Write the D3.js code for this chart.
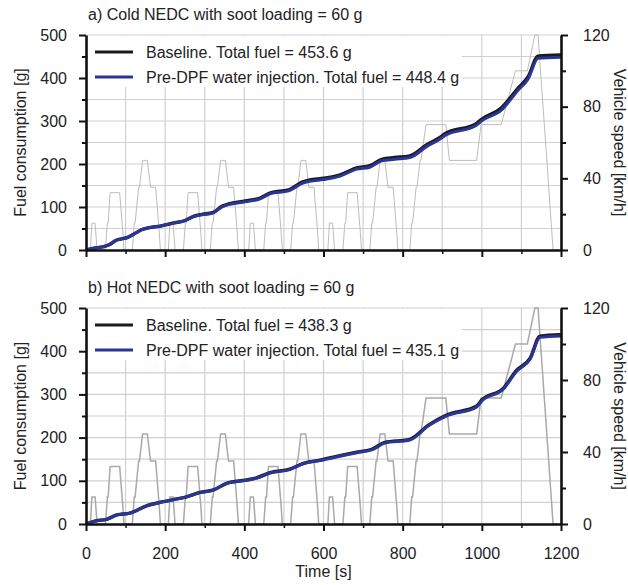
<!DOCTYPE html>
<html>
<head>
<meta charset="utf-8">
<script src="https://cdn.jsdelivr.net/npm/d3@7"></script>
<style>
  body { margin: 0; background: #fff; }
  svg { display: block; font-family: "Liberation Sans", Arial, sans-serif; }
</style>
</head>
<body>
<svg id="chart" width="628" height="585"></svg>
<script>
// vehicle speed trace (NEDC)
const speedTime = [0, 11, 15, 23, 28, 49, 54, 56, 61, 85, 93, 96, 117, 122, 124, 133, 135, 143, 155, 163, 176, 185, 188,
  208, 212, 220, 225, 246, 251, 253, 258, 282, 290, 293, 314, 319, 321, 330, 332, 340, 352, 360, 373, 382, 385,
  411, 415, 423, 428, 449, 454, 456, 461, 485, 493, 496, 517, 522, 524, 533, 535, 543, 555, 563, 576, 585, 588,
  611, 615, 623, 628, 649, 654, 656, 661, 685, 693, 696, 717, 722, 724, 733, 735, 743, 755, 763, 776, 785, 788,
  818, 823, 825, 834, 836, 844, 846, 859, 909, 918, 987, 998, 1049, 1085, 1115, 1134, 1142, 1180, 1192];
const speedKmh = [0, 0, 15, 15, 0, 0, 15, 15, 32, 32, 10, 0, 0, 15, 15, 35, 35, 50, 50, 35, 35, 10, 0,
  0, 15, 15, 0, 0, 15, 15, 32, 32, 10, 0, 0, 15, 15, 35, 35, 50, 50, 35, 35, 10, 0,
  0, 15, 15, 0, 0, 15, 15, 32, 32, 10, 0, 0, 15, 15, 35, 35, 50, 50, 35, 35, 10, 0,
  0, 15, 15, 0, 0, 15, 15, 32, 32, 10, 0, 0, 15, 15, 35, 35, 50, 50, 35, 35, 10, 0,
  0, 15, 15, 35, 35, 50, 50, 70, 70, 50, 50, 70, 70, 100, 100, 120, 120, 0, 0];

// a) cold NEDC, cumulative fuel [g]
const coldTime = [0, 20, 45, 60, 75, 90, 104, 121, 140, 155, 190, 222, 248, 273, 293, 320, 344, 360, 402, 440,
  466, 512, 546, 565, 601, 642, 684, 717, 747, 780, 818, 861, 899, 906, 986, 999, 1049, 1091, 1117, 1142, 1200];
const coldBaseline = [0, 4, 8, 13, 22, 26, 29, 37, 47, 51, 56, 63, 68, 79, 83, 87, 102, 107, 114, 121,
  133, 140, 158, 163, 167, 175, 191, 196, 211, 215, 219, 245, 265, 270, 294, 304, 330, 376, 403, 451, 453.6];
const coldWater = [0, 4, 8, 13, 22, 26, 29, 37, 47, 51, 56, 62.5, 67.5, 78, 82, 86, 100.5, 105.5, 112, 119,
  131, 137.5, 155, 160, 164, 172, 188, 192.5, 207.5, 211, 215, 241, 261, 266, 290, 300, 325, 371, 398, 446, 448.4];

// b) hot NEDC, cumulative fuel [g]
const hotTime = [0, 27, 52, 78, 111, 153, 195, 229, 254, 288, 322, 355, 406, 431, 465, 515, 549, 591,
  650, 688, 722, 755, 818, 865, 911, 987, 1000, 1054, 1088, 1122, 1147, 1200];
const hotBaseline = [0, 7.7, 10.8, 21, 25, 42, 51.6, 58, 63, 73, 79, 94, 102, 107, 119, 127, 140.5, 148,
  160, 167, 173, 189, 196, 229, 252, 273, 287, 314, 356, 384, 435, 438.3];
const hotWater = [0, 7.7, 10.8, 21, 25, 42, 51.5, 57.8, 62.7, 72.6, 78.5, 93.4, 101.3, 106.2, 118.1, 126, 139.4, 146.8,
  158.7, 165.6, 171.5, 187.4, 194.3, 227.2, 250.1, 271, 284.9, 311.8, 353.6, 381.4, 432.1, 435.1];

const fuelTicks = [0, 100, 200, 300, 400, 500];
const speedTicks = [0, 40, 80, 120];
const timeTicks = [0, 200, 400, 600, 800, 1000, 1200];

const panels = [
  { title: "a) Cold NEDC with soot loading = 60 g", top: 35, bottom: 250,
    time: coldTime, base: coldBaseline, water: coldWater,
    labels: ["Baseline. Total fuel = 453.6 g", "Pre-DPF water injection. Total fuel = 448.4 g"],
    speedColor: "#bdbdbd", speedWidth: 1, xLabels: false },
  { title: "b) Hot NEDC with soot loading = 60 g", top: 308, bottom: 524,
    time: hotTime, base: hotBaseline, water: hotWater,
    labels: ["Baseline. Total fuel = 438.3 g", "Pre-DPF water injection. Total fuel = 435.1 g"],
    speedColor: "#a9a9a9", speedWidth: 1.5, xLabels: true }
];

const svg = d3.select("#chart");
const x = d3.scaleLinear().domain([0, 1200]).range([86, 561]);
const gridColor = "#d0d0d0";
const blue = "#2b3595";

function styleAxis(sel, width) {
  sel.select(".domain").attr("stroke", "#111").attr("stroke-width", width);
  sel.selectAll(".tick line").attr("stroke", "#111").attr("stroke-width", 2);
  sel.selectAll(".tick text").attr("font-size", 16).attr("fill", "#222")
    .attr("font-family", "'Liberation Sans', Arial, sans-serif");
}

function drawPanel(p) {
  const y = d3.scaleLinear().domain([0, 500]).range([p.bottom, p.top]);
  const ySpeed = d3.scaleLinear().domain([0, 120]).range([p.bottom, p.top]);
  const g = svg.append("g");

  // grid
  g.append("g").selectAll("line").data(d3.range(50, 501, 50)).join("line")
    .attr("x1", x(0)).attr("x2", x(1200))
    .attr("y1", d => y(d)).attr("y2", d => y(d))
    .attr("stroke", gridColor).attr("stroke-width", 1.2);
  g.append("g").selectAll("line").data(d3.range(100, 1200, 100)).join("line")
    .attr("x1", d => x(d)).attr("x2", d => x(d))
    .attr("y1", p.top).attr("y2", p.bottom)
    .attr("stroke", gridColor).attr("stroke-width", 1.2);

  // legend background hides the grid
  g.append("rect").attr("x", 88).attr("y", p.top + 1).attr("width", 374).attr("height", 51)
    .attr("fill", "#fff");

  // speed trace
  const speedLine = d3.line().x(d => x(d[0])).y(d => ySpeed(d[1]));
  g.append("path").datum(d3.zip(speedTime, speedKmh))
    .attr("d", speedLine).attr("fill", "none")
    .attr("stroke", p.speedColor).attr("stroke-width", p.speedWidth);

  // fuel curves
  const fuelLine = d3.line().x(d => x(d[0])).y(d => y(d[1])).curve(d3.curveMonotoneX);
  g.append("path").datum(d3.zip(p.time, p.base))
    .attr("d", fuelLine).attr("fill", "none").attr("stroke", "#1a1a1a").attr("stroke-width", 3.4);
  g.append("path").datum(d3.zip(p.time, p.water))
    .attr("d", fuelLine).attr("fill", "none").attr("stroke", blue).attr("stroke-width", 3);

  // legend
  const legend = [["#1a1a1a", p.labels[0], 17], [blue, p.labels[1], 42]];
  legend.forEach(([c, t, dy]) => {
    g.append("line").attr("x1", 95).attr("x2", 133)
      .attr("y1", p.top + dy).attr("y2", p.top + dy)
      .attr("stroke", c).attr("stroke-width", 3);
    g.append("text").attr("x", 146).attr("y", p.top + dy + 5.5)
      .attr("font-size", 16).attr("fill", "#222").text(t);
  });

  // axes
  const left = g.append("g").attr("transform", `translate(${x(0)},0)`)
    .call(d3.axisLeft(y).tickValues(fuelTicks).tickSize(7).tickSizeOuter(0).tickPadding(12));
  styleAxis(left, 2.6);
  g.append("g").attr("transform", `translate(${x(0)},0)`)
    .call(d3.axisLeft(y).tickValues(d3.range(50, 500, 100)).tickSize(4).tickSizeOuter(0).tickFormat(""))
    .call(s => { s.select(".domain").remove(); s.selectAll("line").attr("stroke", "#111").attr("stroke-width", 2); });

  const right = g.append("g").attr("transform", `translate(${x(1200)},0)`)
    .call(d3.axisRight(ySpeed).tickValues(speedTicks).tickSize(7).tickSizeOuter(0).tickPadding(15));
  styleAxis(right, 2.6);
  g.append("g").attr("transform", `translate(${x(1200)},0)`)
    .call(d3.axisRight(ySpeed).tickValues([20, 60, 100]).tickSize(5).tickSizeOuter(0).tickFormat(""))
    .call(s => { s.select(".domain").remove(); s.selectAll("line").attr("stroke", "#111").attr("stroke-width", 2); });

  const bottom = g.append("g").attr("transform", `translate(0,${p.bottom})`)
    .call(d3.axisBottom(x).tickValues(timeTicks).tickSize(7).tickSizeOuter(0).tickPadding(17)
      .tickFormat(p.xLabels ? d3.format("d") : ""));
  styleAxis(bottom, 2.6);
  g.append("g").attr("transform", `translate(0,${p.bottom})`)
    .call(d3.axisBottom(x).tickValues(d3.range(100, 1200, 200)).tickSize(4).tickSizeOuter(0).tickFormat(""))
    .call(s => { s.select(".domain").remove(); s.selectAll("line").attr("stroke", "#111").attr("stroke-width", 1.5); });

  // titles
  g.append("text").attr("x", 88).attr("y", p.top - 15).attr("font-size", 16).attr("fill", "#222").text(p.title);
  const mid = (p.top + p.bottom) / 2;
  g.append("text").attr("transform", `translate(26,${mid}) rotate(-90)`)
    .attr("text-anchor", "middle").attr("font-size", 16).attr("fill", "#222").text("Fuel consumption [g]");
  g.append("text").attr("transform", `translate(614,${mid}) rotate(90)`)
    .attr("text-anchor", "middle").attr("font-size", 16).attr("fill", "#222").text("Vehicle speed [km/h]");
}

panels.forEach(drawPanel);

svg.append("text").attr("x", x(600)).attr("y", 577).attr("text-anchor", "middle")
  .attr("font-size", 16).attr("fill", "#222").text("Time [s]");
</script>
</body>
</html>
